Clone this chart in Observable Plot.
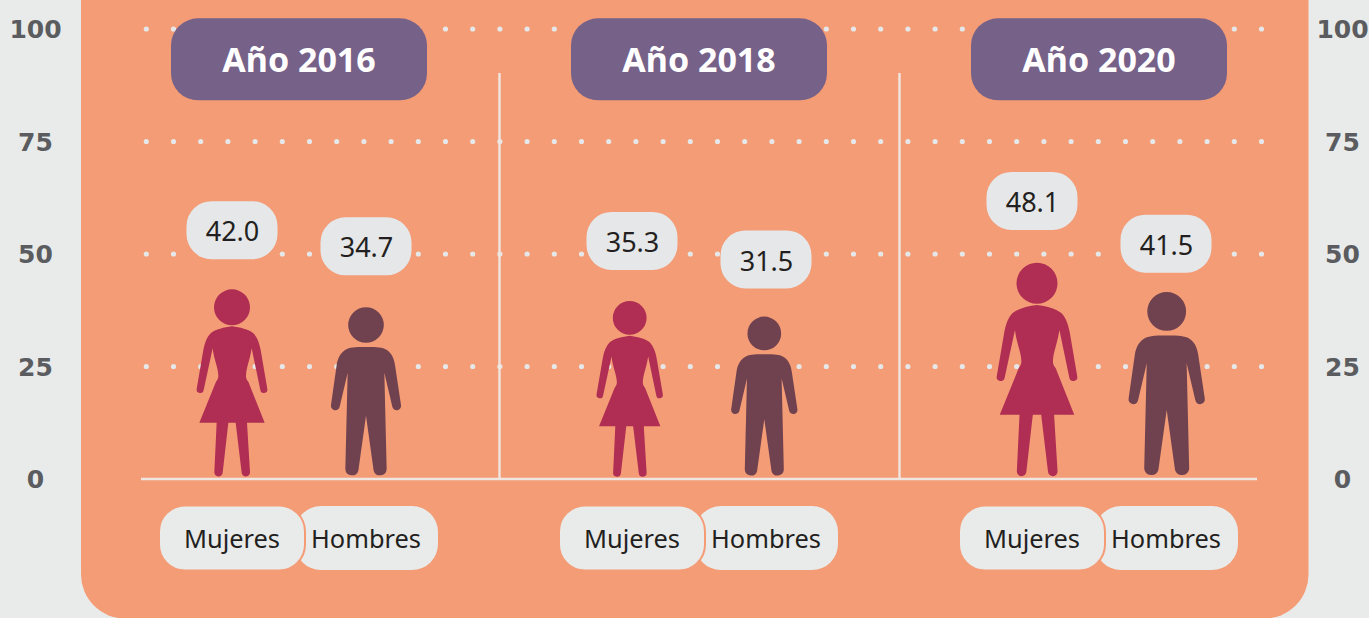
<!DOCTYPE html>
<html lang="es">
<head>
<meta charset="utf-8">
<script src="https://cdn.jsdelivr.net/npm/d3@7"></script>
<script src="https://cdn.jsdelivr.net/npm/@observablehq/plot@0.6"></script>
<style>
  html, body { margin: 0; padding: 0; background: #e9ebea; overflow: hidden; }
  svg { display: block; }
</style>
</head>
<body>
<script>
const years = [2016, 2018, 2020];
const genders = ["Mujeres", "Hombres"];
// Values printed in the speech bubbles
const mujeres = [42.0, 35.3, 48.1];
const hombres = [34.7, 31.5, 41.5];
// Height of each pictogram, read on the y axis
const alturaMujeres = [42.15, 39.55, 48.05];
const alturaHombres = [38.15, 36.05, 41.5];
// Level of the centre of each bubble, read on the y axis
const nivelMujeres = [55.3, 52.9, 61.8];
const nivelHombres = [51.7, 48.8, 52.3];
const yTicks = [0, 25, 50, 75, 100];
const gridTicks = [25, 50, 75, 100];

const BODY = "'Noto Sans', sans-serif";
const AXIS = "'DejaVu Sans', sans-serif";

const rows = years.flatMap((year, i) => [
  {year, gender: "Mujeres", value: mujeres[i], h: alturaMujeres[i], level: nivelMujeres[i], nudge: [0, -2.3, 5][i]},
  {year, gender: "Hombres", value: hombres[i], h: alturaHombres[i], level: nivelHombres[i], nudge: [0, -1.7, 0.7][i]}
]);
const slot = d => d.year + (d.gender === "Hombres" ? 0.67 : 0);
const labelRows = years.flatMap(year => genders.map(gender => ({year, gender})));

const circle = (cx, cy, r) => `M${cx - r} ${cy}A${r} ${r} 0 1 0 ${cx + r} ${cy}A${r} ${r} 0 1 0 ${cx - r} ${cy}Z`;
const shapes = {
  Mujeres: {
    cx: 276, base: 867, top: 298, fill: "#b02d53",
    d: circle(276, 352, 54) + `M276 409C300 412 325 418 340 430C352 442 358 460 362 480L382 597A10.5 10.5 0 0 1 361 600L335 475
       C330 510 318 535 318 558C318 565 320 570 325 575L374 698L321 698L330 846A12.5 12.5 0 0 1 305 848L287 698L265 698L248 848
       A12.5 12.5 0 0 1 223 846L230 698L178 698L228 575C232 570 235 565 235 558C235 535 222 510 218 475L191 600A10.5 10.5 0 0 1 170 597
       L190 480C194 460 200 442 212 430C227 418 252 412 276 409Z`
  },
  Hombres: {
    cx: 678, base: 867, top: 352, fill: "#70424f",
    d: circle(678, 405, 53.5) + `M678 471C700 471 722 471 735 477C755 487 762 505 765 525L783 645A13 13 0 0 1 757 650L733 548L740 838
       A20 20 0 0 1 701 842L678 677L655 842A20 20 0 0 1 616 838L623 548L599 650A13 13 0 0 1 573 645L590 525C593 505 601 487 621 477
       C634 471 656 471 678 471Z`
  }
};

function figures(index, {x, y}) {
  const g = d3.create("svg:g");
  for (const d of rows) {
    const s = shapes[d.gender];
    const k = (y(0) - y(d.h)) / (s.base - s.top);
    g.append("path")
      .attr("fill", s.fill)
      .attr("transform", `translate(${x(slot(d)) + d.nudge},${y(0) + 0.5}) scale(${k}) translate(${-s.cx},${-s.base})`)
      .attr("d", s.d);
  }
  return g.node();
}

const pill = (data, X, Y, w, h, rx, fill, extra = {}) =>
  Plot.rect(data, {x1: X, x2: X, y1: Y, y2: Y,
    insetLeft: -w / 2, insetRight: -w / 2, insetTop: -h / 2, insetBottom: -h / 2, rx, fill, ...extra});

const chart = Plot.plot({
  width: 1369,
  height: 618,
  marginLeft: 81,
  marginRight: 61,
  marginTop: 0,
  marginBottom: 0,
  style: {background: "#e9ebea", overflow: "hidden"},
  x: {domain: [2016, 2020], range: [232, 1032], axis: null},
  y: {domain: [0, 100], range: [478.5, 28.5]},
  marks: [
    Plot.frame({fill: "#f39c76", rx: 44, insetTop: -80, insetLeft: -0.5}),
    Plot.ruleY(gridTicks, {stroke: "#e6e7e8", strokeWidth: 5.2, strokeLinecap: "round",
      strokeDasharray: "0 27.2", insetLeft: 65.3, insetRight: 43}),
    Plot.ruleX(years.slice(1), {y1: 0, y2: 90.1, dx: -133, stroke: "#efe6e1", strokeWidth: 2.4}),
    Plot.ruleY([0], {stroke: "#efe6e1", strokeWidth: 2.6, insetLeft: 60, insetRight: 51}),
    figures,
    // bubbles with the values
    pill(rows, slot, "level", 91, 58, 25, "#e6e7e9", {dy: 0.5}),
    Plot.text(rows, {x: slot, y: "level", text: d => d.value.toFixed(1), fontFamily: BODY,
      fontSize: 27, fill: "#231f20", dy: 2.5}),
    // year headers
    pill(years, d => d, () => 93.3, 256, 82, 27, "#766189", {dx: 67, dy: 0.7}),
    Plot.text(years, {x: d => d, y: () => 93.3, dx: 66.5, dy: 2, text: d => `Año ${d}`, fontFamily: BODY,
      fontWeight: 700, fontSize: 34, fill: "#ffffff"}),
    // gender labels: the Hombres pill sits behind the outlined Mujeres pill
    pill(labelRows.filter(d => d.gender === "Hombres"), slot, () => 0, 143, 64, 26, "#e9ebea", {dx: 0.5, dy: 59.5}),
    pill(labelRows.filter(d => d.gender === "Mujeres"), slot, () => 0, 146, 65, 26, "#e9ebea",
      {dx: 0, dy: 59.5, stroke: "#f39c76", strokeWidth: 2}),
    Plot.text(labelRows, {x: slot, y: () => 0, dy: 60.5, dx: -0.5, text: "gender", fontFamily: BODY,
      fontSize: 25.4, fill: "#231f20"}),
    Plot.axisY({anchor: "left", ticks: yTicks, tickSize: 0, tickPadding: 46, label: null, textAnchor: "middle",
      fontFamily: AXIS, fontWeight: 700, fontSize: 25, fill: "#5b5c5f", dy: 1}),
    Plot.axisY({anchor: "right", ticks: yTicks, tickSize: 0, tickPadding: 34, label: null, textAnchor: "middle",
      fontFamily: AXIS, fontWeight: 700, fontSize: 25, fill: "#5b5c5f", dy: 1})
  ]
});
document.body.appendChild(chart);
</script>
</body>
</html>
